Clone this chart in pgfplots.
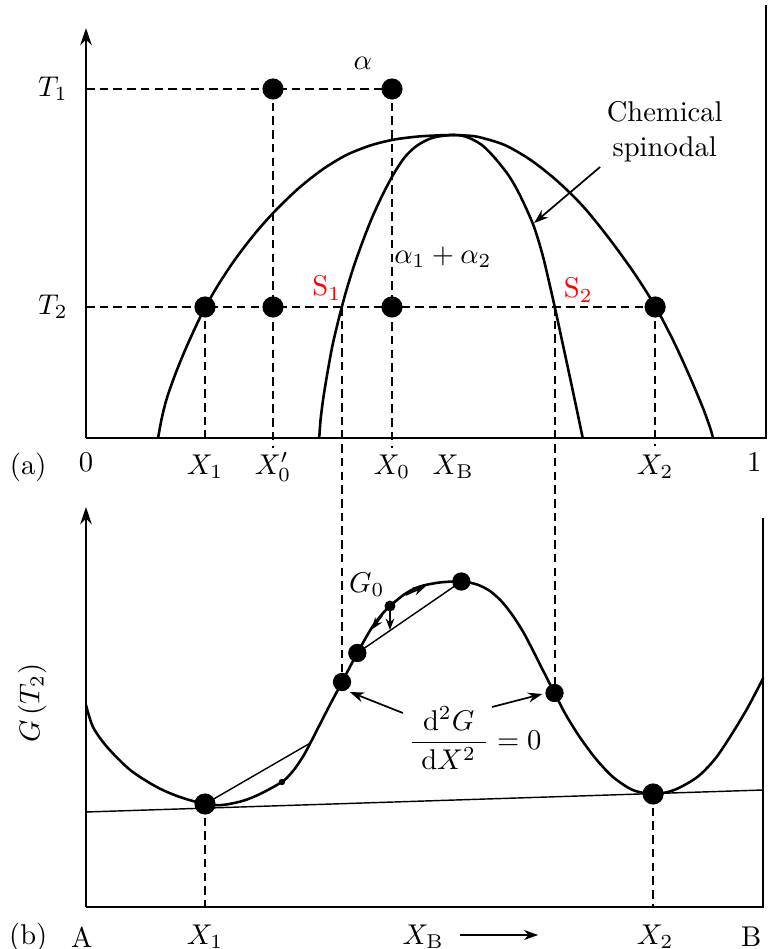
\documentclass[border=0pt]{standalone}
\usepackage{pgfplots}
\pgfplotsset{compat=1.18}
\usetikzlibrary{arrows.meta}
\begin{document}
\begin{tikzpicture}[font=\fontsize{10}{12}\selectfont]
\tikzset{
  curve/.style={black, line width=0.9pt, smooth},
  guide/.style={black, line width=0.7pt, dash pattern=on 3pt off 1.8pt},
  frame/.style={black, line width=0.8pt},
  dot/.style={only marks, mark=*, black, mark options={fill=black}},
}
\path[use as bounding box] (0pt,0pt) rectangle (269.5pt,332.15pt);

% ---------------- (a) phase diagram: T versus composition ----------------
\begin{axis}[at={(30.1pt,178.85pt)}, anchor=south west, scale only axis,
  width=238pt, height=150.5pt, xmin=0, xmax=1, ymin=0, ymax=430,
  hide axis, clip=false]
  % frame
  \draw[frame, -{Stealth[length=6pt,width=4pt]}] (0,0) -- (0,410);
  \draw[frame] (0,0) -- (1,0) -- (1,433);
  % miscibility gap (binodal)
  \addplot[curve] coordinates {
    (0.106,0) (0.1115,20) (0.119,40) (0.132,65) (0.149,93) (0.171,125)
    (0.193,151.5) (0.219,178.4) (0.249,204.9) (0.279,227.7) (0.314,250.5)
    (0.349,269.1) (0.383,283) (0.418,292.5) (0.452,298.3) (0.487,301.4)
    (0.517,302.6) (0.539,303) (0.558,302.5) (0.5773,301) (0.6156,293)
    (0.6539,278) (0.6922,257.5) (0.7305,232) (0.7688,200) (0.8071,164)
    (0.8377,131) (0.8646,96) (0.8875,62) (0.9067,31) (0.9182,9.5) (0.922,0)};
  % chemical spinodal
  \addplot[curve] coordinates {
    (0.343,0) (0.345,18.5) (0.349,40) (0.355,65) (0.3626,93) (0.3724,121)
    (0.3822,146) (0.394,172) (0.4077,198) (0.4214,221.5) (0.4371,244.5)
    (0.4528,264.5) (0.4684,280.5) (0.4841,291) (0.4998,297.5) (0.5155,301.2)
    (0.539,303) (0.555,302) (0.570,298) (0.584,292) (0.600,281) (0.619,265)
    (0.631,252) (0.643,236) (0.657,214.5) (0.665,198.3) (0.673,179) (0.681,156)
    (0.690,129) (0.700,97.5) (0.710,66) (0.720,34) (0.7305,0)};
  % isotherms and composition guides
  \draw[guide] (0,349) -- (0.45,349);
  \draw[guide] (0,131) -- (0.837,131);
  \draw[guide] (0.275,349) -- (0.275,-10);
  \draw[guide] (0.45,349) -- (0.45,-10);
  \draw[guide] (0.175,131) -- (0.175,0);
  \draw[guide] (0.837,131) -- (0.837,-8);
  \draw[guide] (0.3765,131) -- (0.3765,-244);
  \draw[guide] (0.689,131) -- (0.689,-255);
  % alloy states
  \addplot[dot, mark size=3.5pt] coordinates {
    (0.275,349) (0.45,349) (0.175,131) (0.275,131) (0.45,131) (0.837,131)};
  % labels
  \node[anchor=east] at (-0.012,349) {$T_1$};
  \node[anchor=east] at (-0.012,131) {$T_2$};
  \node at (0.407,375) {$\alpha$};
  \node[align=center, font=\fontsize{10}{12.3}\selectfont] at (0.851,306) {Chemical\\spinodal};
  \draw[line width=0.6pt, -{Stealth[length=5pt,width=3.5pt]}] (0.756,271) -- (0.659,215);
  \node at (0.525,181) {$\alpha_1+\alpha_2$};
  \node[red] at (0.354,150) {S$_1$};
  \node[red] at (0.724,148) {S$_2$};
  \node at (-0.085,-29) {(a)};
  \node at (0,-24) {0};
  \node at (0.175,-29) {$X_1$};
  \node at (0.275,-29) {$X_0'$};
  \node at (0.45,-29) {$X_0$};
  \node at (0.54,-29) {$X_\mathrm{B}$};
  \node at (0.837,-29) {$X_2$};
  \node[anchor=east] at (1.008,-24) {1};
\end{axis}

% ---------------- (b) free energy curve at T2 ----------------
\begin{axis}[at={(30.1pt,14.7pt)}, anchor=south west, scale only axis,
  width=238pt, height=140pt, xmin=0, xmax=1, ymin=0, ymax=400,
  hide axis, clip=false]
  \draw[frame, -{Stealth[length=6pt,width=4pt]}] (0,0) -- (0,400);
  \draw[frame] (0,0) -- (0.996,0) -- (0.996,389);
  % common tangent
  \draw[black, line width=0.5pt] (0,95) -- (0.996,117);
  % G(X) at T2
  \addplot[curve] coordinates {
    (0.000,202) (0.0103,180) (0.031,160) (0.065,137) (0.104,120) (0.138,110)
    (0.175,103) (0.200,102) (0.230,106) (0.256,113) (0.288,125) (0.300,132.5)
    (0.310,141) (0.320,151.5) (0.330,164) (0.354,196) (0.3765,225) (0.399,254)
    (0.420,279) (0.435,292.5) (0.447,301) (0.470,313.5) (0.491,320.5)
    (0.520,324.5) (0.552,325.5) (0.575,322.5) (0.594,316) (0.612,305)
    (0.628,291) (0.643,275) (0.657,257) (0.671,238) (0.689,214) (0.705,193)
    (0.726,170) (0.750,148) (0.775,130) (0.804,117) (0.834,113) (0.865,117)
    (0.899,130) (0.925,148) (0.947,170) (0.972,198) (0.996,229)};
  % chords
  \draw[black, line width=0.5pt] (0.175,103) -- (0.330,164);
  \draw[black, line width=0.5pt] (0.399,254) -- (0.552,325.5);
  % decomposition arrows
  \draw[line width=0.5pt, -{Stealth[length=4pt,width=3pt]}] (0.447,301) -- (0.447,277);
  \draw[line width=0.6pt, -{Stealth[length=4.5pt,width=3pt]}] (0.470,312) -- (0.500,321);
  \draw[line width=0.6pt, -{Stealth[length=4.5pt,width=3pt]}] (0.436,292) -- (0.419,277);
  % guides
  \draw[guide] (0.175,103) -- (0.175,0);
  \draw[guide] (0.834,113) -- (0.834,0);
  % points on the curve
  \addplot[dot, mark size=3.5pt] coordinates {(0.175,103) (0.834,113)};
  \addplot[dot, mark size=3pt] coordinates {(0.3765,225) (0.399,254) (0.552,325.5) (0.689,214)};
  \addplot[dot, mark size=1.7pt] coordinates {(0.447,301)};
  \addplot[dot, mark size=0.9pt] coordinates {(0.288,125)};
  % labels
  \node[rotate=90] at (-0.079,204) {$G\,(T_2)$};
  \node at (0.413,322) {$G_0$};
  \node[anchor=west] at (0.459,169)
    {$\displaystyle\frac{\hspace{4pt}\mathrm{d}^2G\hspace{4pt}}{\mathrm{d}X^2}=0$};
  \draw[line width=0.6pt, -{Stealth[length=5pt,width=3.5pt]}] (0.466,194) -- (0.388,215);
  \draw[line width=0.6pt, -{Stealth[length=5pt,width=3.5pt]}] (0.597,200) -- (0.671,213);
  \node at (-0.085,-30) {(b)};
  \node at (-0.006,-30) {A};
  \node at (0.175,-30) {$X_1$};
  \node at (0.496,-30) {$X_\mathrm{B}$};
  \draw[line width=0.6pt, -{Stealth[length=5pt,width=3.5pt]}] (0.55,-28) -- (0.665,-28);
  \node at (0.837,-30) {$X_2$};
  \node[anchor=east] at (1.008,-30) {B};
\end{axis}
\end{tikzpicture}
\end{document}
